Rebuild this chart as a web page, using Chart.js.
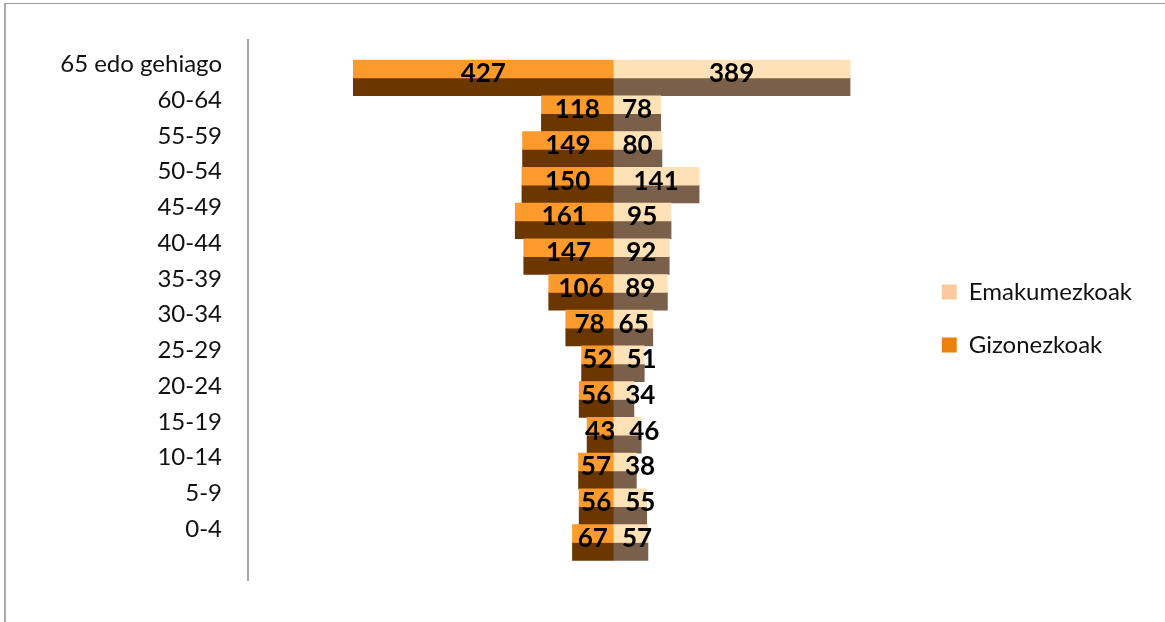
<!DOCTYPE html>
<html>
<head>
<meta charset="utf-8">
<script src="https://cdn.jsdelivr.net/npm/chart.js@4"></script>
<style>
  body { margin: 0; background: #fff; }
  #wrap { position: relative; width: 1165px; height: 622px; }
  #frame { position: absolute; left: 4px; top: 3px; right: 0; bottom: 0;
           border-top: 1px solid #9b9b9b; border-left: 2px solid #a8a8a8; }
  #pyramid { position: absolute; left: 0; top: 0; }
</style>
</head>
<body>
<div id="wrap">
  <div id="frame"></div>
  <canvas id="pyramid" width="1165" height="622"></canvas>
</div>
<script>
// age groups, top to bottom
const ageGroups = ['65 edo gehiago', '60-64', '55-59', '50-54', '45-49', '40-44', '35-39',
                   '30-34', '25-29', '20-24', '15-19', '10-14', '5-9', '0-4'];
const women = [389, 78, 80, 141, 95, 92, 89, 65, 51, 34, 46, 38, 55, 57];
const men = [427, 118, 149, 150, 161, 147, 106, 78, 52, 56, 43, 57, 56, 67];
const legendNames = ['Emakumezkoak', 'Gizonezkoak'];

const FONT = 'Lato, "Open Sans", sans-serif';

const toPoints = (arr, sign) => arr.map((v, i) => ({ x: sign * v, y: i }));

// numbers printed on every bar; a women label is pushed right when it would run into the men label
const valueLabels = {
  id: 'valueLabels',
  afterDatasetsDraw(chart) {
    const ctx = chart.ctx;
    ctx.save();
    ctx.font = 'bold 26px ' + FONT;
    ctx.fillStyle = '#000';
    ctx.textAlign = 'center';
    ctx.textBaseline = 'middle';
    const menBars = chart.getDatasetMeta(0).data;
    const womenBars = chart.getDatasetMeta(1).data;
    menBars.forEach((bar, i) => {
      const mx = (bar.x + bar.base) / 2;
      const menRight = mx + ctx.measureText(men[i]).width / 2;
      ctx.fillText(men[i], mx, bar.y + 5);

      const wb = womenBars[i];
      const halfW = ctx.measureText(women[i]).width / 2;
      const wx = Math.max((wb.x + wb.base) / 2, menRight + 14 + halfW);
      ctx.fillText(women[i], wx, wb.y + 5);
    });
    ctx.restore();
  }
};

// each bar = light top half + dark bottom half (the 3d look of the original)
new Chart(document.getElementById('pyramid').getContext('2d'), {
  type: 'bar',
  data: {
    datasets: [
      { label: 'Gizonezkoak', data: toPoints(men, -1), stack: 'top', backgroundColor: '#fd9a2c' },
      { label: 'Emakumezkoak', data: toPoints(women, 1), stack: 'top', backgroundColor: '#ffe1b7' },
      { label: 'Gizonezkoak', data: toPoints(men, -1), stack: 'bottom', backgroundColor: '#6b3600' },
      { label: 'Emakumezkoak', data: toPoints(women, 1), stack: 'bottom', backgroundColor: '#7a604a' }
    ]
  },
  options: {
    indexAxis: 'y',
    responsive: false,
    animation: false,
    layout: { padding: { left: 58, top: 40, bottom: 42, right: 23 } },
    datasets: { bar: { categoryPercentage: 1, barPercentage: 1, borderWidth: 0 } },
    scales: {
      x: {
        type: 'linear',
        stacked: true,
        min: -600,
        max: 492,
        display: false
      },
      y: {
        type: 'linear',
        reverse: true,
        offset: false,
        min: -1.05,
        max: 14.05,
        afterBuildTicks: s => { s.ticks = ageGroups.map((_, i) => ({ value: i })); },
        afterFit: s => { s.width = 190; },
        grid: { display: false, drawTicks: false },
        border: { display: true, color: '#a6a6a6', width: 2 },
        ticks: {
          padding: 26,
          labelOffset: -13.5,
          color: '#111',
          font: { family: FONT, size: 24 },
          callback: v => ageGroups[v]
        }
      }
    },
    plugins: {
      tooltip: { enabled: false },
      legend: {
        position: 'right',
        title: { display: true, text: '', font: { size: 1, lineHeight: 1 }, padding: { top: 16, bottom: 0 } },
        labels: {
          font: { family: FONT, size: 24 },
          color: '#111',
          boxWidth: 15,
          boxHeight: 15,
          padding: 29,
          generateLabels: () => legendNames.map((name, i) => ({
            text: name,
            fillStyle: i === 0 ? '#fbc9a0' : '#eb800f',
            strokeStyle: 'rgba(0,0,0,0)',
            fontColor: '#111',
            lineWidth: 0,
            datasetIndex: i
          }))
        }
      }
    }
  },
  plugins: [valueLabels]
});
</script>
</body>
</html>
